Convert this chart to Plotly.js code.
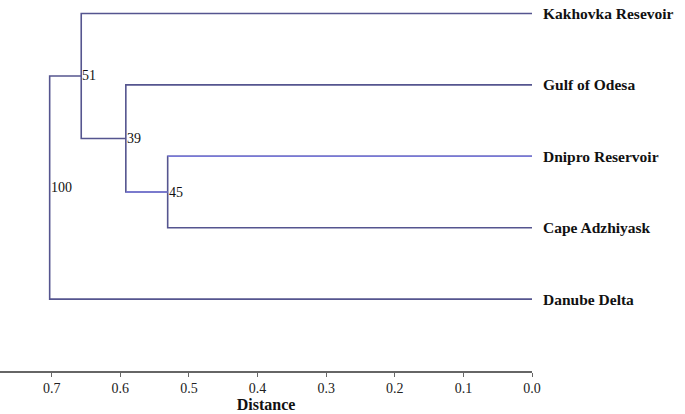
<!DOCTYPE html>
<html>
<head>
<meta charset="utf-8">
<script src="https://cdn.plot.ly/plotly-3.0.1.min.js"></script>
<style>
    html, body { margin: 0; padding: 0; background: #fff; }
    #chart { width: 685px; height: 414px; }
</style>
</head>
<body>
<div id="chart"></div>
<script>
// leaves, top to bottom
const leaves = ['Kakhovka Resevoir', 'Gulf of Odesa', 'Dnipro Reservoir', 'Cape Adzhiyask', 'Danube Delta'];
// merges: children are leaf indices or 'n' + merge index
const mergeChildren = [[2, 3], [1, 'n0'], [0, 'n1'], ['n2', 4]];
const mergeHeights = [0.531, 0.592, 0.657, 0.703];
const bootstrap = [45, 39, 51, 100];
const tickValues = [0.7, 0.6, 0.5, 0.4, 0.3, 0.2, 0.1, 0.0];

const serif = 'Liberation Serif';
const lineColor = '#55558f';
const lightColor = '#7878d8';

const nodeY = [];
const pos = c => typeof c === 'number'
    ? { x: 0, y: c }
    : { x: mergeHeights[+c.slice(1)], y: nodeY[+c.slice(1)] };

const traces = [];
const annotations = [];

mergeChildren.forEach((pair, i) => {
    const a = pos(pair[0]);
    const b = pos(pair[1]);
    const h = mergeHeights[i];
    nodeY[i] = (a.y + b.y) / 2;
    // upper arm, vertical, lower arm
    traces.push({
        x: [a.x, h, h, b.x],
        y: [a.y, a.y, b.y, b.y],
        mode: 'lines',
        line: { color: lineColor, width: 1.6 },
        hoverinfo: 'skip'
    });
    annotations.push({
        x: h, y: nodeY[i], xref: 'x', yref: 'y',
        text: String(bootstrap[i]),
        showarrow: false, xanchor: 'left', yanchor: 'middle', xshift: -1,
        font: { family: serif, size: 14, color: '#111' }
    });
});

// lighter strokes as in the source figure (Dnipro branch and its link)
traces.push({
    x: [0, mergeHeights[0]], y: [2, 2],
    mode: 'lines', line: { color: lightColor, width: 1.6 }, hoverinfo: 'skip'
});
traces.push({
    x: [mergeHeights[0], mergeHeights[1]], y: [nodeY[0], nodeY[0]],
    mode: 'lines', line: { color: lightColor, width: 1.6 }, hoverinfo: 'skip'
});

leaves.forEach((name, i) => {
    annotations.push({
        x: 0, y: i, xref: 'x', yref: 'y',
        text: '<b>' + name + '</b>',
        showarrow: false, xanchor: 'left', yanchor: 'middle', xshift: 9,
        font: { family: serif, size: 15.5, color: '#111' }
    });
});

const layout = {
    width: 685,
    height: 414,
    margin: { l: 0, r: 153, t: 0, b: 43 },
    showlegend: false,
    paper_bgcolor: '#fff',
    plot_bgcolor: '#fff',
    xaxis: {
        range: [0.7754, 0],
        tickvals: tickValues,
        ticktext: tickValues.map(v => v.toFixed(1)),
        ticks: 'outside',
        ticklen: 4,
        tickcolor: '#666',
        showline: true,
        linecolor: '#666',
        linewidth: 1.5,
        showgrid: false,
        zeroline: false,
        tickfont: { family: serif, size: 14, color: '#222' },
        title: {
            text: '<b>Distance</b>',
            standoff: 2,
            font: { family: serif, size: 16, color: '#111' }
        }
    },
    yaxis: {
        range: [5.007, -0.189],
        visible: false
    },
    annotations: annotations
};

Plotly.newPlot('chart', traces, layout, { displayModeBar: false, staticPlot: true });
</script>
</body>
</html>
